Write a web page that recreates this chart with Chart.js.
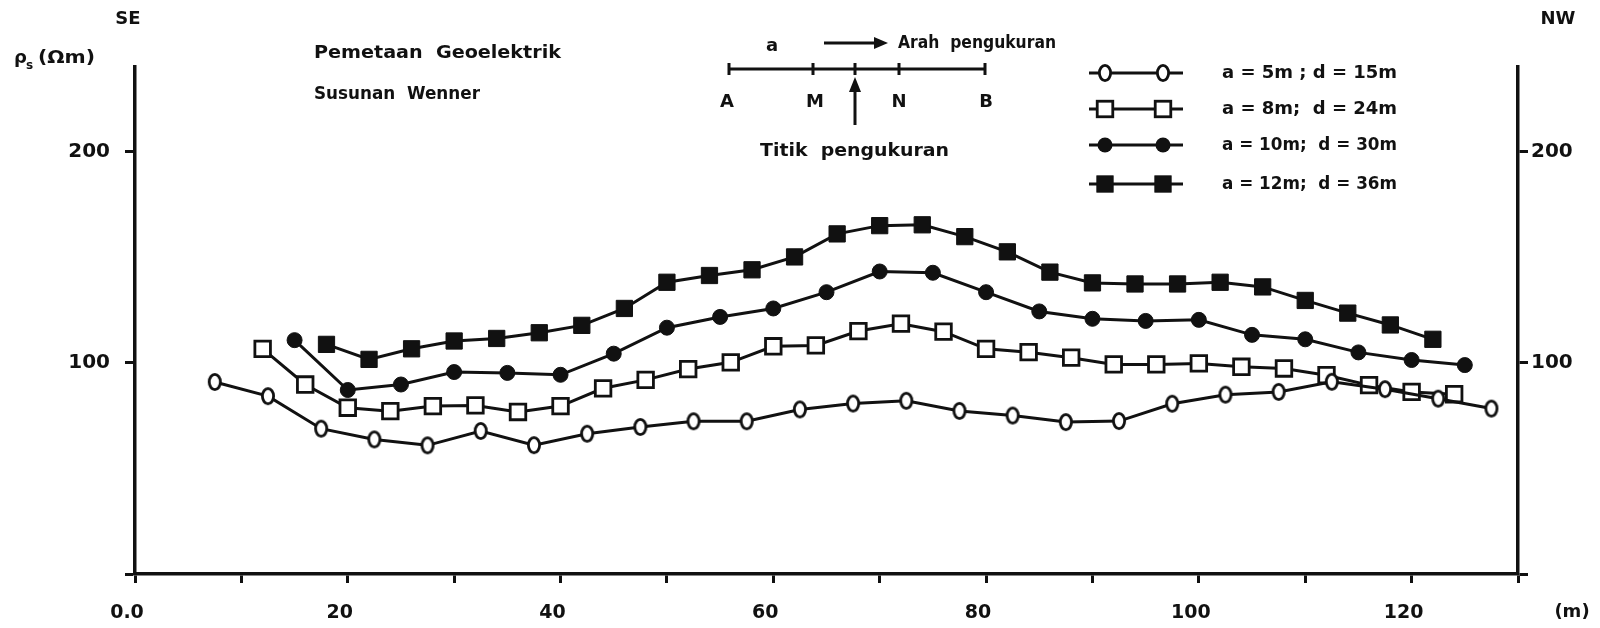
<!DOCTYPE html>
<html>
<head>
<meta charset="utf-8">
<title>Pemetaan Geoelektrik - Susunan Wenner</title>
<script src="https://cdn.jsdelivr.net/npm/chart.js"></script>
<style>
  html, body { margin: 0; padding: 0; background: #fff; }
  canvas { display: block; }
</style>
</head>
<body>
<canvas id="myChart" width="1600" height="628"></canvas>
<script>
// distances (m) and apparent resistivity (ohm m)
const xA5 = [7.5, 12.5, 17.5, 22.5, 27.5, 32.5, 37.5, 42.5, 47.5, 52.5, 57.5, 62.5, 67.5, 72.5, 77.5, 82.5, 87.5, 92.5, 97.5, 102.5, 107.5, 112.5, 117.5, 122.5, 127.5];
const rhoA5 = [90.9, 84.2, 68.8, 63.7, 60.9, 67.7, 61.0, 66.4, 69.6, 72.3, 72.3, 77.9, 80.7, 82.0, 77.2, 75.0, 71.9, 72.4, 80.6, 84.9, 86.2, 91.0, 87.5, 83.0, 78.3];

const xA8 = [12, 16, 20, 24, 28, 32, 36, 40, 44, 48, 52, 56, 60, 64, 68, 72, 76, 80, 84, 88, 92, 96, 100, 104, 108, 112, 116, 120, 124];
const rhoA8 = [106.6, 89.7, 78.7, 77.1, 79.5, 79.8, 76.7, 79.5, 87.9, 91.9, 97.0, 100.2, 107.8, 108.2, 115.0, 118.5, 114.7, 106.6, 105.0, 102.4, 99.2, 99.2, 99.7, 98.1, 97.3, 94.1, 89.4, 86.2, 85.1];

const xA10 = [15, 20, 25, 30, 35, 40, 45, 50, 55, 60, 65, 70, 75, 80, 85, 90, 95, 100, 105, 110, 115, 120, 125];
const rhoA10 = [110.7, 87.1, 89.7, 95.6, 95.2, 94.3, 104.3, 116.6, 121.7, 125.7, 133.4, 143.2, 142.6, 133.4, 124.3, 120.8, 119.8, 120.3, 113.2, 111.1, 104.9, 101.3, 98.9];

const xA12 = [18, 22, 26, 30, 34, 38, 42, 46, 50, 54, 58, 62, 66, 70, 74, 78, 82, 86, 90, 94, 98, 102, 106, 110, 114, 118, 122];
const rhoA12 = [108.7, 101.6, 106.6, 110.3, 111.5, 114.2, 117.7, 125.7, 138.1, 141.3, 144.0, 150.1, 161.0, 164.9, 165.3, 159.7, 152.5, 142.9, 137.8, 137.3, 137.3, 138.1, 135.9, 129.5, 123.5, 117.9, 111.1];

const seriesLabels = ["a = 5m ; d = 15m", "a = 8m;  d = 24m", "a = 10m;  d = 30m", "a = 12m;  d = 36m"];
const xTickLabels = {0: "0.0", 20: "20", 40: "40", 60: "60", 80: "80", 100: "100", 120: "120"};
const yTickValues = [0, 100, 200];

const ink = "#111";
const fontFamily = '"DejaVu Sans"';

function pairUp(xs, ys) {
  return xs.map(function (x, i) { return {x: x, y: ys[i]}; });
}

// open circles in the scan are a bit taller than wide
function makeOval() {
  const c = document.createElement("canvas");
  c.width = 18;
  c.height = 22;
  const g = c.getContext("2d");
  g.beginPath();
  g.ellipse(9, 11, 5.6, 7.6, 0, 0, Math.PI * 2);
  g.fillStyle = "#fff";
  g.fill();
  g.lineWidth = 2.8;
  g.strokeStyle = ink;
  g.stroke();
  return c;
}
const ovalMarker = makeOval();

let ctx = document.getElementById("myChart").getContext("2d");

let chartData = {
  datasets: [
    {
      label: seriesLabels[0],
      data: pairUp(xA5, rhoA5),
      pointStyle: ovalMarker,
      pointRadius: 8,
      backgroundColor: "#fff",
      borderColor: ink,
      borderWidth: 3
    },
    {
      label: seriesLabels[1],
      data: pairUp(xA8, rhoA8),
      pointStyle: "rect",
      pointRadius: 11,
      pointBorderWidth: 2.8,
      pointBackgroundColor: "#fff",
      borderColor: ink,
      borderWidth: 3
    },
    {
      label: seriesLabels[2],
      data: pairUp(xA10, rhoA10),
      pointStyle: "circle",
      pointRadius: 7.5,
      pointBorderWidth: 1,
      pointBackgroundColor: ink,
      borderColor: ink,
      borderWidth: 3
    },
    {
      label: seriesLabels[3],
      data: pairUp(xA12, rhoA12),
      pointStyle: "rect",
      pointRadius: 11.5,
      pointBorderWidth: 1,
      pointBackgroundColor: ink,
      borderColor: ink,
      borderWidth: 3
    }
  ]
};

function yAxis(side, width, pad) {
  return {
    type: "linear",
    position: side,
    min: 0,
    max: 240,
    afterBuildTicks: function (scale) {
      scale.ticks = yTickValues.map(function (v) { return {value: v}; });
    },
    afterFit: function (scale) { scale.width = width; },
    ticks: {
      padding: pad,
      color: ink,
      font: {family: "DejaVu Sans", size: 20, weight: "bold"},
      callback: function (v) { return v === 0 ? "" : String(v); }
    },
    grid: {drawOnChartArea: false, drawTicks: true, tickLength: 10, tickWidth: 3, tickColor: ink},
    border: {display: true, width: 3.5, color: ink}
  };
}

// draw text at a fixed height, stretched sideways to a given width
function fitText(c, text, x, y, width, size) {
  c.font = "bold " + (size || 18) + "px " + fontFamily;
  c.textAlign = "left";
  const k = width / c.measureText(text).width;
  c.save();
  c.translate(x, y);
  c.scale(k, 1);
  c.fillText(text, 0, 0);
  c.restore();
}

function plainText(c, text, x, y, size, align) {
  c.font = "bold " + size + "px " + fontFamily;
  c.textAlign = align || "center";
  c.fillText(text, x, y);
}

// free text and the little A-M-N-B sketch on top of the plot
const annotations = {
  id: "annotations",
  afterDraw: function (chart) {
    const c = chart.ctx;
    c.save();
    c.fillStyle = ink;
    c.strokeStyle = ink;
    c.textBaseline = "middle";

    plainText(c, "SE", 128, 19, 18);
    plainText(c, "NW", 1558, 19, 18);
    plainText(c, "(m)", 1572, 612, 18);

    plainText(c, "\u03c1", 14, 58, 18, "left");
    plainText(c, "s", 26, 66, 12, "left");
    fitText(c, "(\u03a9m)", 38, 58, 57, 18);

    fitText(c, "Pemetaan  Geoelektrik", 314, 53, 247);
    fitText(c, "Susunan  Wenner", 314, 94, 166);

    // electrode line
    c.lineWidth = 3;
    c.beginPath();
    c.moveTo(729, 69); c.lineTo(985, 69);
    [729, 813, 855, 899, 985].forEach(function (x) {
      c.moveTo(x, 63); c.lineTo(x, 75);
    });
    c.stroke();
    plainText(c, "a", 772, 46, 18);
    plainText(c, "A", 727, 102, 18);
    plainText(c, "M", 815, 102, 18);
    plainText(c, "N", 899, 102, 18);
    plainText(c, "B", 986, 102, 18);

    // direction arrow
    c.beginPath();
    c.moveTo(824, 43); c.lineTo(876, 43);
    c.stroke();
    c.beginPath();
    c.moveTo(888, 43); c.lineTo(874, 37); c.lineTo(874, 49); c.closePath();
    c.fill();
    fitText(c, "Arah  pengukuran", 898, 43, 158);

    // measuring point arrow
    c.beginPath();
    c.moveTo(855, 125); c.lineTo(855, 90);
    c.stroke();
    c.beginPath();
    c.moveTo(855, 77); c.lineTo(849, 92); c.lineTo(861, 92); c.closePath();
    c.fill();
    fitText(c, "Titik  pengukuran", 760, 151, 189);

    // legend: a line with two markers per series
    const rows = [73, 109, 145, 184];
    chart.data.datasets.forEach(function (ds, i) {
      const y = rows[i];
      c.lineWidth = ds.borderWidth;
      c.beginPath();
      c.moveTo(1089, y); c.lineTo(1183, y);
      c.stroke();
      [1105, 1163].forEach(function (x) {
        if (ds.pointStyle === ovalMarker) {
          c.drawImage(ovalMarker, x - ovalMarker.width / 2, y - ovalMarker.height / 2);
        } else if (ds.pointStyle === "rect") {
          const h = ds.pointRadius * Math.SQRT1_2;
          c.fillStyle = ds.pointBackgroundColor;
          c.fillRect(x - h, y - h, 2 * h, 2 * h);
          c.lineWidth = ds.pointBorderWidth;
          c.strokeRect(x - h, y - h, 2 * h, 2 * h);
        } else {
          c.fillStyle = ds.pointBackgroundColor;
          c.beginPath();
          c.arc(x, y, ds.pointRadius, 0, Math.PI * 2);
          c.fill();
        }
      });
      c.fillStyle = ink;
      fitText(c, ds.label, 1222, y, 175);
    });
    c.restore();
  }
};

let chartOptions = {
  responsive: false,
  animation: false,
  devicePixelRatio: 1,
  layout: {padding: {top: 67, left: 0, right: 0, bottom: 0}},
  plugins: {legend: {display: false}, tooltip: {enabled: false}, title: {display: false}},
  elements: {line: {tension: 0}},
  scales: {
    x: {
      type: "linear",
      position: "bottom",
      min: 0,
      max: 130,
      afterFit: function (scale) { scale.height = 54; },
      ticks: {
        stepSize: 10,
        autoSkip: false,
        maxRotation: 0,
        padding: 19,
        labelOffset: -8,
        color: ink,
        font: {family: "DejaVu Sans", size: 19, weight: "bold"},
        callback: function (v) {
          const k = Math.round(v);
          return xTickLabels[k] !== undefined ? xTickLabels[k] : "";
        }
      },
      grid: {drawOnChartArea: false, drawTicks: true, tickLength: 9, tickWidth: 3, tickColor: ink},
      border: {display: true, width: 3.5, color: ink}
    },
    y: yAxis("left", 135, 15),
    y2: yAxis("right", 82, 3)
  }
};

let chart = new Chart(ctx, {
  type: "line",
  data: chartData,
  options: chartOptions,
  plugins: [annotations]
});
</script>
</body>
</html>
